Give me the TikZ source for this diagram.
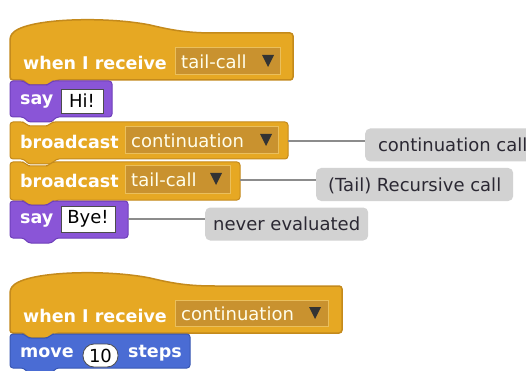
\documentclass[tikz,border=0pt]{standalone}
\usepackage{fontspec}
\setmainfont{DejaVu Sans}
\definecolor{evfill}{HTML}{E6A823}
\definecolor{evline}{HTML}{C48A1C}
\definecolor{ddfill}{HTML}{C9922F}
\definecolor{ddline}{HTML}{EABF5C}
\definecolor{lkfill}{HTML}{8A55D7}
\definecolor{lkline}{HTML}{6E3FBA}
\definecolor{mvfill}{HTML}{4A6CD4}
\definecolor{mvline}{HTML}{3857B3}
\definecolor{cmfill}{HTML}{D2D2D2}
\definecolor{cmtext}{HTML}{2B2833}
\definecolor{cmline}{HTML}{8C8C8C}
\newcommand\sblk[6]{%
 \draw[fill=#1,draw=#2,line width=1pt,rounded corners=3pt] (#3,#6) -- (#3,#4) -- ({#3+14},#4) -- ({#3+18},{#4+4}) -- ({#3+38},{#4+4}) -- ({#3+42},#4) -- (#5,#4) -- (#5,#6) -- ({#3+46},#6) -- ({#3+42},{#6+5}) -- ({#3+18},{#6+5}) -- ({#3+14},#6) -- cycle;}
\newcommand\shat[4]{% x1 top x2 bottom
 \draw[fill=evfill,draw=evline,line width=1.5pt,rounded corners=3pt] (#1,#4) -- (#1,{#2+4}) [rounded corners=0pt] .. controls ({#1+12},{#2-15}) and ({#1+95},{#2-17}) .. ({#1+140},{#2-8}) .. controls ({#1+165},{#2-2}) and ({#1+180},#2) .. ({#1+205},#2) [rounded corners=3pt] -- (#3,#2) -- (#3,#4) -- ({#1+46},#4) -- ({#1+42},{#4+5}) -- ({#1+18},{#4+5}) -- ({#1+14},#4) -- cycle;}
\tikzset{
 lbl/.style={font=\bfseries\fontsize{17.5}{17.5}\selectfont, text=white, anchor=west, inner sep=0pt},
 ddtxt/.style={font=\fontsize{18}{18}\selectfont, text=white!92!yellow, anchor=west, inner sep=0pt},
 intxt/.style={font=\fontsize{18}{18}\selectfont, text=black, inner sep=0pt},
 ddbox/.style={fill=ddfill, draw=ddline, line width=1pt},
 inbox/.style={fill=white, draw=black!70, line width=0.8pt},
 cmt/.style={fill=cmfill, rounded corners=5pt, anchor=west, inner xsep=5pt, minimum height=33pt, font=\fontsize{18}{18}\selectfont, text=cmtext, text depth=0pt},
 cline/.style={draw=cmline, line width=1.2pt},
 tri/.style={fill=black!80, draw=none}
}
\begin{document}
\begin{tikzpicture}[x=1pt,y=-1pt]
\useasboundingbox[fill=white] (0,0) rectangle (526,371);
% ---- script 1
\shat{10}{33}{293}{80}
\draw[ddbox] (175,48) rectangle (280,75);
\node[lbl] (t1) at (23,63) {when I receive};
\node[ddtxt] (d1) at (181,62) {tail-call};
\fill[tri] (262,55) -- (274,55) -- (268,67) -- cycle;

\sblk{lkfill}{lkline}{10}{81}{112}{117}
\node[lbl] (t2) at (20,101) {say};
\draw[inbox] (61,89) rectangle (103,113);
\node[intxt] (i1) at (82,101) {Hi!};

\sblk{evfill}{evline}{10}{122}{288}{159}
\node[lbl] (t3) at (20,142) {broadcast};
\draw[ddbox] (125,127) rectangle (278,154);
\node[ddtxt] (d3) at (131,141) {continuation};
\fill[tri] (260,134) -- (272,134) -- (266,146) -- cycle;
\coordinate (e3) at (288,141);

\sblk{evfill}{evline}{10}{162}{240}{200}
\node[lbl] (t4) at (20,181) {broadcast};
\draw[ddbox] (125,166) rectangle (230,193);
\node[ddtxt] (d4) at (131,180) {tail-call};
\fill[tri] (210,173) -- (222,173) -- (216,185) -- cycle;
\coordinate (e4) at (240,180);

\sblk{lkfill}{lkline}{10}{201}{128}{238}
\node[lbl] (t5) at (20,220) {say};
\draw[inbox] (61,206) rectangle (115,232);
\node[intxt] (i5) at (88,219) {Bye!};
\coordinate (e5) at (128,219);

% comments
\node[cmt, minimum width=175pt] (c1) at (365,145) {continuation call};
\node[cmt, minimum width=197pt] (c2) at (316,184.5) {(Tail) Recursive call};
\node[cmt, minimum width=163pt] (c3) at (205,224) {never evaluated};
\draw[cline] (e3) -- (c1.west |- e3);
\draw[cline] (e4) -- (c2.west |- e4);
\draw[cline] (e5) -- (c3.west |- e5);

% ---- script 2
\shat{10}{286}{342}{333}
\draw[ddbox] (175,300) rectangle (328,326);
\node[lbl] (t6) at (23,316) {when I receive};
\node[ddtxt] (d6) at (181,314) {continuation};
\fill[tri] (309,307) -- (321,307) -- (315,319) -- cycle;

\sblk{mvfill}{mvline}{10}{334}{190}{368}
\node[lbl] (t7) at (20,353) {move};
\draw[inbox, rounded corners=11pt] (83,344) rectangle (118,367);
\node[intxt] (i7) at (100.5,355.5) {10};
\node[lbl] (t8) at (128,353) {steps};
\end{tikzpicture}
\end{document}
